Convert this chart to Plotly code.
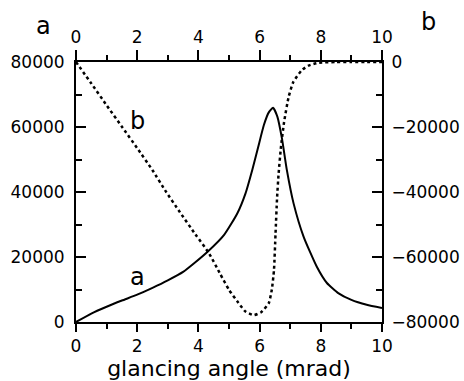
import plotly.graph_objects as go

# curve a (left axis)
xa = [0, 0.5, 1.0, 1.5, 2.0, 2.5, 3.0, 3.5, 3.86, 4.3, 4.84, 5.27, 5.54, 5.76, 5.95, 6.14, 6.3, 6.44,
      6.58, 6.73, 6.89, 7.11, 7.44, 7.87, 8.2, 8.57, 9.0, 9.5, 10.0]
ya = [0, 2600, 4700, 6600, 8400, 10500, 12800, 15400, 18060, 21600, 26800, 33400, 39600, 46800, 53700,
      60600, 64500, 65900, 63200, 56500, 46800, 36500, 26200, 17000, 12000, 8900, 6800, 5300, 4300]

# curve b (right axis)
xb = [0, 0.5, 1.0, 1.5, 2.0, 2.5, 2.94, 3.38, 3.9, 4.35, 4.7, 5.0, 5.3, 5.54, 5.81, 6.05, 6.3, 6.4, 6.47, 6.52,
      6.57, 6.62, 6.7, 6.8, 6.95, 7.1, 7.38, 7.6, 7.92, 8.5, 9.0, 9.5, 10.0]
yb = [0, -6600, -13300, -19900, -26500, -33300, -39900, -46000, -53000, -58900, -65000, -70100, -74000, -76800,
      -77900, -77000, -74200, -70000, -64000, -53000, -42000, -34500, -26000, -18500, -10700, -6200, -2500, -1100,
      -250, 0, 0, 0, 0]

xticks = [0, 2, 4, 6, 8, 10]
yleft_ticks = [0, 20000, 40000, 60000, 80000]
yright_ticks = [-80000, -60000, -40000, -20000, 0]

FONT = "DejaVu Sans"

fig = go.Figure()
fig.add_trace(go.Scatter(x=xa, y=ya, mode="lines", line=dict(color="black", width=2, shape="spline", smoothing=0.5),
                         xaxis="x", yaxis="y", showlegend=False, hoverinfo="skip"))
fig.add_trace(go.Scatter(x=xb, y=yb, mode="lines", line=dict(color="black", width=2.5, dash="dot", shape="spline", smoothing=0.5),
                         xaxis="x2", yaxis="y2", showlegend=False, hoverinfo="skip"))

axcommon = dict(showline=True, linecolor="black", linewidth=2, showgrid=False, zeroline=False,
                tickfont=dict(family=FONT, size=17, color="black"), tickcolor="black", tickwidth=2,
                tickformat="d", automargin=False)

fig.update_layout(
    width=464, height=381,
    margin=dict(l=76, r=82, t=62, b=59),
    paper_bgcolor="white", plot_bgcolor="white",
    font=dict(family=FONT, color="black"),
    xaxis=dict(range=[0, 10], tickvals=xticks, ticks="outside", ticklen=8,
               minor=dict(dtick=1, ticks="outside", ticklen=5, tickcolor="black", tickwidth=2),
               title=dict(text="glancing angle (mrad)", font=dict(family=FONT, size=22, color="black"), standoff=2),
               **axcommon),
    xaxis2=dict(range=[0, 10], tickvals=xticks, ticks="outside", ticklen=10, side="top", overlaying="x",
                minor=dict(dtick=1, ticks="outside", ticklen=5, tickcolor="black", tickwidth=2),
                **axcommon),
    yaxis=dict(range=[0, 80000], tickvals=yleft_ticks, ticks="inside", ticklen=10,
               minor=dict(dtick=10000, ticks="inside", ticklen=6, tickcolor="black", tickwidth=2),
               ticklabelstandoff=6, **axcommon),
    yaxis2=dict(range=[-80000, 0], tickvals=yright_ticks, ticks="inside", ticklen=10, side="right", overlaying="y",
                minor=dict(dtick=10000, ticks="inside", ticklen=6, tickcolor="black", tickwidth=2),
                ticklabelstandoff=4, **axcommon),
)

# pixel -> paper conversion for the corner labels
pw, ph = 464 - 76 - 82, 381 - 62 - 59
def px2paper(px, py):
    return (px - 76) / pw, (381 - 59 - py) / ph

ax_, ay_ = px2paper(43, 26)
bx_, by_ = px2paper(429, 22)
fig.add_annotation(text="a", x=ax_, y=ay_, xref="paper", yref="paper", showarrow=False,
                   xanchor="center", yanchor="middle", font=dict(family=FONT, size=24, color="black"))
fig.add_annotation(text="b", x=bx_, y=by_, xref="paper", yref="paper", showarrow=False,
                   xanchor="center", yanchor="middle", font=dict(family=FONT, size=24, color="black"))
fig.add_annotation(text="b", x=2.0, y=62000, xref="x", yref="y", showarrow=False,
                   xanchor="center", yanchor="middle", font=dict(family=FONT, size=24, color="black"))
fig.add_annotation(text="a", x=2.0, y=13800, xref="x", yref="y", showarrow=False,
                   xanchor="center", yanchor="middle", font=dict(family=FONT, size=24, color="black"))

fig.write_html("out.html")
